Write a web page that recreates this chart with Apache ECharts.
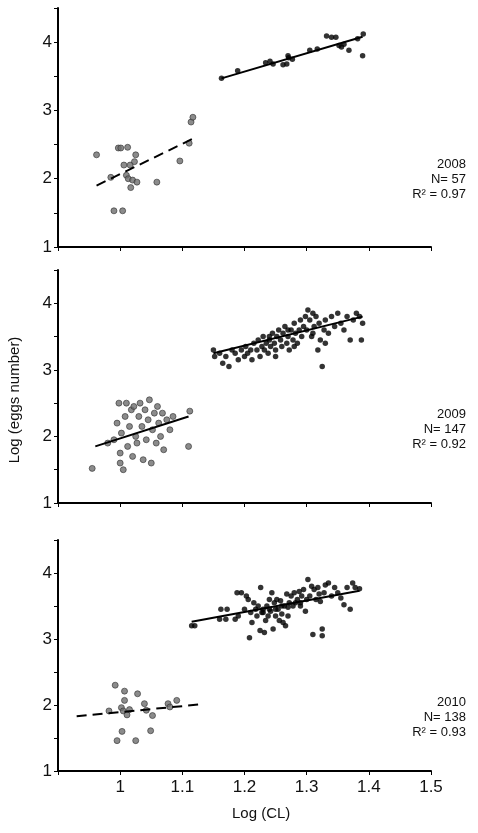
<!DOCTYPE html><html><head><meta charset="utf-8"><script src="https://cdn.jsdelivr.net/npm/echarts@6/dist/echarts.min.js"></script>
<style>html,body{margin:0;padding:0;background:#fff}#c{width:478px;height:833px}</style></head><body><div id="c"></div><script>
const xTicks=[1,1.1,1.2,1.3,1.4,1.5];
const yTicks=[1,2,3,4];
const grey2008=[[0.962,2.35],[0.985,2.02],[0.99,1.53],[0.997,2.45],[1.001,2.45],[1.004,1.53],[1.006,2.2],[1.01,2.05],[1.012,2.46],[1.013,2.0],[1.016,2.2],[1.017,1.87],[1.02,1.98],[1.023,2.25],[1.025,2.35],[1.027,1.95],[1.059,1.95],[1.096,2.26],[1.111,2.52],[1.114,2.83],[1.117,2.9]];
const black2008=[[1.163,3.47],[1.189,3.58],[1.234,3.7],[1.241,3.72],[1.246,3.68],[1.262,3.67],[1.268,3.68],[1.27,3.8],[1.271,3.77],[1.277,3.75],[1.305,3.88],[1.317,3.9],[1.332,4.09],[1.34,4.07],[1.347,4.07],[1.352,3.95],[1.356,3.93],[1.36,3.97],[1.368,3.88],[1.382,4.05],[1.39,3.8],[1.391,4.12]];
const fitGrey2008=[[0.962,1.9],[1.12,2.6]];
const fitBlack2008=[[1.163,3.47],[1.39,4.08]];
const grey2009=[[0.955,1.52],[0.98,1.9],[0.99,1.95],[0.995,2.2],[0.998,2.5],[1.0,1.6],[1.002,2.05],[1.005,1.5],[1.008,2.3],[1.01,2.5],[1.012,1.85],[1.015,2.15],[1.018,2.4],[1.02,1.7],[1.022,2.45],[1.025,2.0],[1.027,1.9],[1.03,2.3],[1.032,2.5],[1.035,2.15],[1.037,1.65],[1.04,2.4],[1.042,1.95],[1.045,2.25],[1.047,2.55],[1.05,1.6],[1.052,2.1],[1.055,2.35],[1.058,1.9],[1.06,2.45],[1.062,2.2],[1.065,2.0],[1.068,2.35],[1.07,1.8],[1.075,2.25],[1.08,2.1],[1.085,2.3],[1.11,1.85],[1.112,2.38],[1.0,1.75]];
const black2009=[[1.15,3.3],[1.152,3.2],[1.16,3.25],[1.165,3.1],[1.17,3.2],[1.175,3.05],[1.18,3.3],[1.185,3.25],[1.19,3.15],[1.195,3.3],[1.2,3.2],[1.202,3.35],[1.205,3.25],[1.21,3.3],[1.212,3.15],[1.215,3.4],[1.22,3.3],[1.222,3.45],[1.225,3.2],[1.228,3.35],[1.23,3.5],[1.232,3.3],[1.235,3.4],[1.238,3.25],[1.24,3.45],[1.242,3.35],[1.245,3.55],[1.248,3.4],[1.25,3.3],[1.252,3.5],[1.255,3.6],[1.258,3.45],[1.26,3.35],[1.262,3.55],[1.265,3.65],[1.268,3.4],[1.27,3.5],[1.272,3.3],[1.275,3.6],[1.278,3.45],[1.28,3.7],[1.282,3.55],[1.285,3.4],[1.288,3.6],[1.29,3.75],[1.292,3.5],[1.295,3.65],[1.298,3.8],[1.3,3.6],[1.302,3.9],[1.305,3.75],[1.308,3.5],[1.31,3.85],[1.312,3.65],[1.315,3.8],[1.318,3.3],[1.32,3.7],[1.322,3.45],[1.325,3.05],[1.328,3.6],[1.33,3.75],[1.335,3.55],[1.34,3.8],[1.345,3.65],[1.35,3.85],[1.355,3.7],[1.36,3.6],[1.365,3.8],[1.37,3.45],[1.375,3.75],[1.38,3.85],[1.385,3.8],[1.388,3.45],[1.39,3.7],[1.25,3.2],[1.27,3.6],[1.28,3.35],[1.24,3.5],[1.31,3.55],[1.33,3.4]];
const fitGrey2009=[[0.96,1.85],[1.11,2.3]];
const fitBlack2009=[[1.15,3.25],[1.39,3.8]];
const grey2010=[[0.992,2.3],[1.007,2.21],[1.007,2.07],[1.028,2.17],[0.982,1.91],[1.002,1.96],[1.005,1.91],[1.011,1.85],[1.015,1.93],[1.039,2.02],[1.042,1.92],[1.052,1.84],[1.077,2.02],[1.08,1.97],[1.091,2.07],[1.003,1.6],[0.995,1.46],[1.025,1.46],[1.049,1.61]];
const black2010=[[1.115,3.2],[1.12,3.2],[1.16,3.3],[1.162,3.45],[1.17,3.3],[1.172,3.45],[1.185,3.3],[1.188,3.7],[1.19,3.35],[1.195,3.7],[1.2,3.45],[1.203,3.65],[1.206,3.6],[1.208,3.02],[1.21,3.4],[1.212,3.25],[1.215,3.55],[1.218,3.45],[1.22,3.35],[1.222,3.5],[1.225,3.13],[1.226,3.78],[1.228,3.4],[1.23,3.45],[1.232,3.1],[1.234,3.28],[1.236,3.5],[1.238,3.35],[1.24,3.6],[1.242,3.42],[1.244,3.7],[1.246,3.15],[1.248,3.55],[1.25,3.35],[1.252,3.6],[1.254,3.45],[1.256,3.28],[1.258,3.58],[1.26,3.38],[1.262,3.25],[1.264,3.5],[1.266,3.2],[1.268,3.68],[1.27,3.35],[1.272,3.55],[1.275,3.65],[1.278,3.5],[1.28,3.7],[1.282,3.55],[1.285,3.6],[1.288,3.72],[1.29,3.5],[1.292,3.65],[1.295,3.75],[1.298,3.42],[1.3,3.6],[1.302,3.9],[1.305,3.65],[1.308,3.8],[1.31,3.07],[1.312,3.75],[1.315,3.6],[1.318,3.78],[1.32,3.68],[1.322,3.57],[1.325,3.15],[1.325,3.05],[1.328,3.7],[1.33,3.82],[1.335,3.85],[1.34,3.65],[1.345,3.78],[1.35,3.7],[1.355,3.62],[1.36,3.52],[1.365,3.78],[1.37,3.45],[1.374,3.85],[1.378,3.78],[1.385,3.76],[1.24,3.45],[1.26,3.5],[1.23,3.4],[1.25,3.45],[1.27,3.48],[1.29,3.55]];
const fitGrey2010=[[0.93,1.83],[1.13,2.01]];
const fitBlack2010=[[1.115,3.26],[1.385,3.73]];
const panels=[
 {top:8,height:239,grey:grey2008,black:black2008,fg:fitGrey2008,fb:fitBlack2008,dash:true,txt:['2008','N= 57','R² = 0.97'],ty:158,showX:false},
 {top:270,height:233,grey:grey2009,black:black2009,fg:fitGrey2009,fb:fitBlack2009,dash:false,txt:['2009','N= 147','R² = 0.92'],ty:408,showX:false},
 {top:540,height:231,grey:grey2010,black:black2010,fg:fitGrey2010,fb:fitBlack2010,dash:true,txt:['2010','N= 138','R² = 0.93'],ty:696,showX:true}
];
const grid=[],xAxis=[],yAxis=[],series=[],graphic=[];
const ax={lineStyle:{color:'#000',width:2}};
panels.forEach((p,i)=>{
 grid.push({left:58,right:47,top:p.top,height:p.height});
 xAxis.push({type:'value',gridIndex:i,min:0.9,max:1.5,interval:0.1,axisLine:ax,axisTick:{show:true,length:4,lineStyle:{color:'#000'}},splitLine:{show:false},
  axisLabel:{show:p.showX,fontSize:17,color:'#111',fontFamily:'Liberation Sans',margin:8,formatter:v=>xTicks.some(t=>Math.abs(t-v)<1e-6)?String(+v.toFixed(1)):''}});
 yAxis.push({type:'value',gridIndex:i,min:1,max:4.5,interval:0.5,axisLine:{show:true,lineStyle:{color:'#000',width:2}},axisTick:{show:true,length:4,lineStyle:{color:'#000'}},splitLine:{show:false},
  axisLabel:{fontSize:17,color:'#111',fontFamily:'Liberation Sans',margin:6,formatter:v=>yTicks.includes(v)?String(v):''}});
 series.push({type:'scatter',xAxisIndex:i,yAxisIndex:i,data:p.grey,symbolSize:6,itemStyle:{color:'#6e6e6e',borderColor:'#333',borderWidth:0.8}});
 series.push({type:'scatter',xAxisIndex:i,yAxisIndex:i,data:p.black,symbolSize:5.5,itemStyle:{color:'#000'}});
 series.push({type:'line',xAxisIndex:i,yAxisIndex:i,data:p.fg,symbol:'none',lineStyle:{color:'#000',width:2,type:p.dash?[10,6]:'solid'}});
 series.push({type:'line',xAxisIndex:i,yAxisIndex:i,data:p.fb,symbol:'none',lineStyle:{color:'#000',width:2}});
 p.txt.forEach((t,k)=>graphic.push({type:'text',right:12,top:p.ty+k*15,style:{text:t,font:'13px "Liberation Sans"',fill:'#111',textAlign:'right'}}));
});
graphic.push({type:'text',x:15,y:400,rotation:Math.PI/2,style:{text:'Log (eggs number)',font:'15px "Liberation Sans"',fill:'#111',textAlign:'center',textVerticalAlign:'middle'}});
graphic.push({type:'text',left:232,top:806,style:{text:'Log (CL)',font:'15px "Liberation Sans"',fill:'#111'}});
const chart=echarts.init(document.getElementById('c'));
chart.setOption({animation:false,grid,xAxis,yAxis,series,graphic});
</script></body></html>
